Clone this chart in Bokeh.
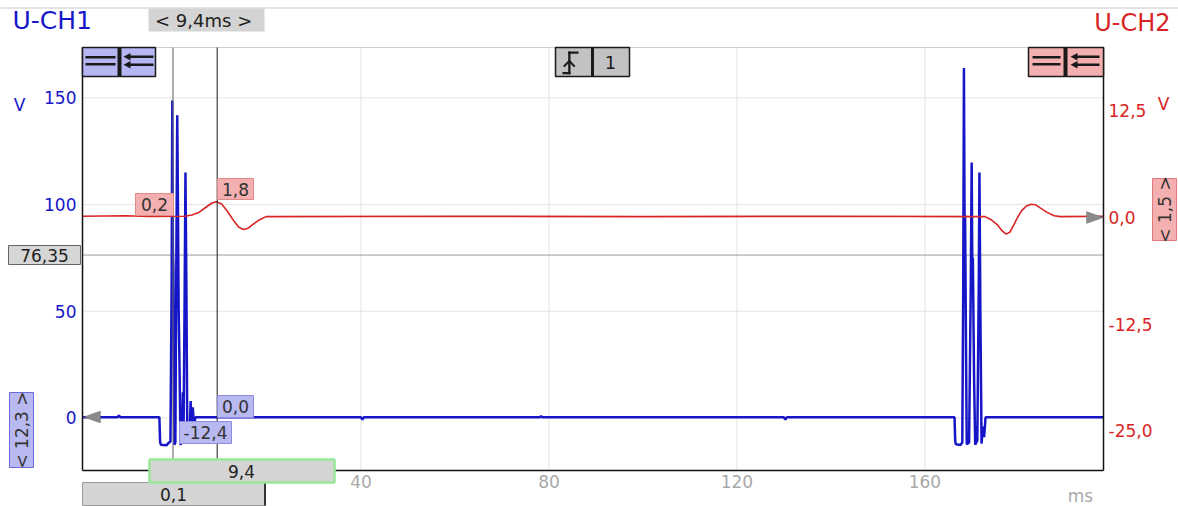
from math import pi
from bokeh.plotting import figure
from bokeh.models import (Range1d, LinearAxis, Label, BoxAnnotation,
                          PolyAnnotation, FixedTicker, CustomJSTickFormatter)
from bokeh.embed import file_html
from bokeh.resources import INLINE

# ---------------- data ----------------
time_range = [-19.26, 198.0]          # ms, visible span of the trace area
time_ticks = [0, 40, 80, 120, 160]

ch1_range = [-24.6, 173.6]            # V, left axis (U-CH1)
ch1_ticks = [0, 50, 100, 150]
ch1_t = [-19.3, -11.8, -11.5, -11.2, -2.9, -2.75,
         -2.6, -1.4, -1.0, -0.55, -0.3, -0.15,
         -0.02, 0.08, 0.2, 0.3, 0.5, 0.7,
         0.9, 1.05, 1.2, 1.35, 1.6, 1.9,
         2.1, 2.25, 2.45, 2.65, 2.85, 3.05,
         3.3, 3.5, 3.75, 3.95, 4.2, 4.45,
         4.8, 40.0, 40.3, 40.6, 78.0, 78.3,
         78.6, 130.0, 130.3, 130.6, 166.3, 166.45,
         166.6, 167.6, 167.95, 168.15, 168.3, 168.45,
         168.55, 168.75, 168.9, 169.4, 169.75, 169.95,
         170.1, 170.2, 170.45, 170.7, 171.15, 171.45,
         171.6, 171.8, 172.05, 172.35, 172.6, 172.9,
         198.1]
ch1_v = [0.3, 0.3, 1.2, 0.3, 0.3, -11.0,
         -12.5, -12.8, -11.8, -11.0, 60.0, 148.8,
         78.0, 70.0, 20.0, -12.5, -11.5, 70.0,
         141.8, 100.0, 50.0, 30.0, -12.6, -11.0,
         12.0, -5.0, 50.0, 115.0, 60.0, -12.0,
         -2.0, -11.5, 8.0, -9.0, 5.0, -3.0,
         0.3, 0.3, -0.8, 0.3, 0.3, 0.9,
         0.3, 0.3, -0.7, 0.3, 0.3, -11.0,
         -12.3, -12.6, -11.5, 60.0, 164.0, 85.0,
         95.0, 30.0, -12.3, -11.5, 60.0, 119.7,
         65.0, 75.0, 20.0, -12.5, -10.5, 60.0,
         115.0, 50.0, -12.0, -4.0, -9.0, 0.3,
         0.3]

ch2_range = [-29.66, 19.93]           # V, right axis (U-CH2)
ch2_ticks = [-25.0, -12.5, 0.0, 12.5]
ch2_t = [-19.3, -10.0, -5.0, 2.5, 4.0, 5.5,
         7.0, 8.3, 9.2, 10.3, 11.2, 12.2,
         13.2, 14.0, 15.0, 16.0, 17.0, 18.3,
         19.8, 60.0, 100.0, 140.0, 172.8, 174.2,
         175.5, 176.5, 177.3, 178.1, 178.9, 179.7,
         180.6, 181.6, 182.6, 183.5, 184.6, 186.0,
         187.5, 188.8, 198.1]
ch2_v = [0.15, 0.2, 0.12, 0.15, 0.3, 0.6,
         1.2, 1.7, 1.85, 1.6, 1.0, 0.2,
         -0.6, -1.15, -1.4, -1.25, -0.8, -0.3,
         0.1, 0.15, 0.1, 0.15, 0.1, -0.3,
         -0.9, -1.6, -1.95, -1.7, -0.9, 0.0,
         0.8, 1.35, 1.55, 1.5, 1.1, 0.6,
         0.2, 0.1, 0.15]

cursor_times = [0.0, 9.4]
ch1_level = 76.35
ch1_title, ch2_title = "U-CH1", "U-CH2"
cursor_readout = "<  9,4ms >"
level_text = "76,35"
ch2_cursor_vals = ["0,2", "1,8"]
ch1_cursor_vals = ["-12,4", "0,0"]
ch1_scale_text = "< 12,3 >"
ch2_scale_text = "< 1,5 >"
delta_text, pos_text = "9,4", "0,1"
unit_v, unit_ms = "V", "ms"
trigger_channel = "1"

# ---------------- layout / styling ----------------
BLUE = "#1616c8"
RED = "#d82424"
FONT = "DejaVu Sans"
W, H = 1178, 506
# trace area inside the canvas (px): left, right, top, bottom
AL, AR, AT, AB = 82, 1103, 47, 470


def widen(lo, hi, a, b, n):
    """range spanning the whole canvas when [lo, hi] sits on pixels a..b of n"""
    k = (hi - lo) / (b - a)
    return lo - a * k, hi + (n - b) * k


x_full = widen(time_range[0], time_range[1], AL, AR, W)
y1_full = widen(ch1_range[0], ch1_range[1], H - AB, H - AT, H)
y2_full = widen(ch2_range[0], ch2_range[1], H - AB, H - AT, H)

p = figure(width=W, height=H, output_backend="svg", toolbar_location=None,
           x_range=Range1d(*x_full), y_range=Range1d(*y1_full),
           min_border=0, background_fill_color="white",
           border_fill_color="white")
p.outline_line_color = None
p.title.visible = False
p.xgrid.visible = False
p.ygrid.visible = False
p.extra_y_ranges = {"ch2": Range1d(*y2_full)}

xa = p.xaxis[0]
xa.ticker = FixedTicker(ticks=time_ticks)
xa.formatter = CustomJSTickFormatter(code="return tick == 0 ? '' : tick.toString();")
xa.fixed_location = ch1_range[0]
xa.bounds = tuple(time_range)
ya = p.yaxis[0]
ya.ticker = FixedTicker(ticks=ch1_ticks)
ya.fixed_location = time_range[0]
ya.bounds = tuple(ch1_range)
ra = LinearAxis(y_range_name="ch2", ticker=FixedTicker(ticks=ch2_ticks),
                formatter=CustomJSTickFormatter(code="return tick.toFixed(1).replace('.', ',');"),
                fixed_location=time_range[1], bounds=tuple(ch2_range))
p.add_layout(ra, "right")

for ax, col, so in ((xa, "#a8a8a8", 4), (ya, BLUE, 6), (ra, RED, 5)):
    ax.major_tick_line_color = None
    ax.minor_tick_line_color = None
    ax.major_tick_out = 0
    ax.major_tick_in = 0
    ax.axis_line_color = "#111111"
    ax.axis_line_width = 1.5
    ax.major_label_text_color = col
    ax.major_label_text_font = FONT
    ax.major_label_text_font_size = "17px"
    ax.major_label_standoff = so

# grid lines of the trace area (from the tick lists)
GRID = "#e4e4e4"
p.segment(x0=time_ticks, x1=time_ticks,
          y0=[ch1_range[0]] * len(time_ticks), y1=[ch1_range[1]] * len(time_ticks),
          line_color=GRID, line_width=1)
p.segment(x0=[time_range[0]] * len(ch1_ticks), x1=[time_range[1]] * len(ch1_ticks),
          y0=ch1_ticks, y1=ch1_ticks, line_color=GRID, line_width=1)
p.segment(x0=[time_range[0]], x1=[time_range[1]], y0=[ch1_range[1]], y1=[ch1_range[1]],
          line_color="#cfcfcf", line_width=1)
# level cursor
p.segment(x0=[time_range[0]], x1=[time_range[1]], y0=[ch1_level], y1=[ch1_level],
          line_color="#9c9c9c", line_width=1)

# traces
p.line(ch1_t, ch1_v, line_color=BLUE, line_width=2.5)
p.line(ch2_t, ch2_v, y_range_name="ch2", line_color=RED, line_width=1.6)

# time cursors
p.segment(x0=cursor_times, x1=cursor_times,
          y0=[ch1_range[0]] * 2, y1=[ch1_range[1]] * 2,
          line_color=["#6c6c6c", "#1a1a1a"], line_width=1)


def box(l, t, r, b, fill, line=None, lw=1.0):
    p.add_layout(BoxAnnotation(left=l, right=r, top=t, bottom=b,
                               left_units="canvas", right_units="canvas",
                               top_units="canvas", bottom_units="canvas",
                               fill_color=fill, fill_alpha=1.0,
                               line_color=line, line_width=lw, line_alpha=1.0))


def txt(x, y, s, color="#2a2a2a", size=17, align="center", angle=0.0):
    p.add_layout(Label(x=x, y=y, x_units="canvas", y_units="canvas",
                       text=s, text_color=color, text_font=FONT,
                       text_font_size=f"{size}px", text_align=align,
                       text_baseline="middle", angle=angle))


def poly(xs, ys, fill, line=None):
    p.add_layout(PolyAnnotation(xs=list(xs), ys=list(ys),
                                xs_units="canvas", ys_units="canvas",
                                fill_color=fill, fill_alpha=1.0,
                                line_color=line, line_width=1))


# top rule
box(0, 7, 1178, 8, "#c8c8c8")

# channel titles and cursor readout
txt(12, 20, ch1_title, BLUE, 25, "left")
txt(1170, 22, ch2_title, RED, 24, "right")
box(148, 8, 264, 31, "#d4d4d4")
txt(206, 19.5, cursor_readout, "#222", 18)

# units
txt(19, 104, unit_v, BLUE, 17)
txt(1163, 103, unit_v, RED, 17)
txt(1080, 495, unit_ms, "#a8a8a8", 17)

# channel 1 control icon (blue)
box(82, 47, 155, 76, "#b6b6f2", "#1a1a1a", 1.5)
box(117, 47, 121, 76, "#1a1a1a")
box(85, 55.5, 115, 58, "#1a1a1a")
box(85, 62.5, 115, 65, "#1a1a1a")
box(128, 55, 153, 57.5, "#1a1a1a")
box(128, 63, 153, 65.5, "#1a1a1a")
poly([123, 130, 130], [56.2, 52.5, 60], "#1a1a1a")
poly([123, 130, 130], [64.2, 60.5, 68], "#1a1a1a")

# channel 2 control icon (red)
box(1028, 47, 1103, 76, "#f4b0b0", "#1a1a1a", 1.5)
box(1063, 47, 1067, 76, "#1a1a1a")
box(1032, 55.5, 1060, 58, "#1a1a1a")
box(1032, 62.5, 1060, 65, "#1a1a1a")
box(1075, 55, 1099, 57.5, "#1a1a1a")
box(1075, 63, 1099, 65.5, "#1a1a1a")
poly([1070, 1077, 1077], [56.2, 52.5, 60], "#1a1a1a")
poly([1070, 1077, 1077], [64.2, 60.5, 68], "#1a1a1a")

# trigger icon
box(555, 47, 629, 76, "#c2c2c2", "#1a1a1a", 1.5)
box(590.5, 47, 593.5, 76, "#1a1a1a")
box(562, 71.5, 570, 73.8, "#1a1a1a")
box(567.7, 51, 570, 73.8, "#1a1a1a")
box(567.7, 51, 578, 53.3, "#1a1a1a")
poly([562.5, 568.8, 575, 573.5, 568.8, 564], [65.5, 59, 65.5, 66.8, 62, 66.8], "#1a1a1a")
txt(610, 62, trigger_channel, "#1a1a1a", 18)

# level readout
box(8, 245, 80, 264, "#d6d6d6", "#666666", 1)
txt(44, 254.5, level_text, "#222", 17)

# cursor value readouts
box(135, 193, 173, 215, "#f4b0b0", "#e08a8a", 1)
txt(154, 204, ch2_cursor_vals[0], "#333", 17)
box(217, 178, 253, 199, "#f4b0b0", "#e08a8a", 1)
txt(235, 188.5, ch2_cursor_vals[1], "#333", 17)
box(217, 395, 253, 417, "#b9b9f2", "#8c8ce0", 1)
txt(235, 406, ch1_cursor_vals[1], "#333", 17)
box(179, 421, 231, 443, "#b9b9f2", "#8c8ce0", 1)
txt(205, 432, ch1_cursor_vals[0], "#333", 17)

# scale boxes (rotated)
box(9, 392, 33, 467, "#b9b9f2", "#6a6ad8", 1)
txt(21, 429.5, ch1_scale_text, "#333", 17, "center", pi / 2)
box(1152, 178, 1176, 240, "#f4b0b0", "#e07a7a", 1)
txt(1164, 209, ch2_scale_text, "#333", 17, "center", pi / 2)

# zero markers
poly([83, 100, 100], [416.5, 410.5, 422.5], "#8a8a8a", "#555555")
poly([1103, 1086, 1086], [217, 211, 223], "#8a8a8a", "#555555")

# bottom cursor boxes
box(82, 482, 265, 505, "#d4d4d4", "#999999", 1)
box(263.5, 482, 265.5, 505, "#333333")
txt(173, 494, pos_text, "#222", 17)
box(149, 459, 334, 482, "#d4d4d4", "#98e698", 2.5)
txt(241, 470.5, delta_text, "#222", 17)

open("out.html", "w").write(file_html(p, INLINE))
